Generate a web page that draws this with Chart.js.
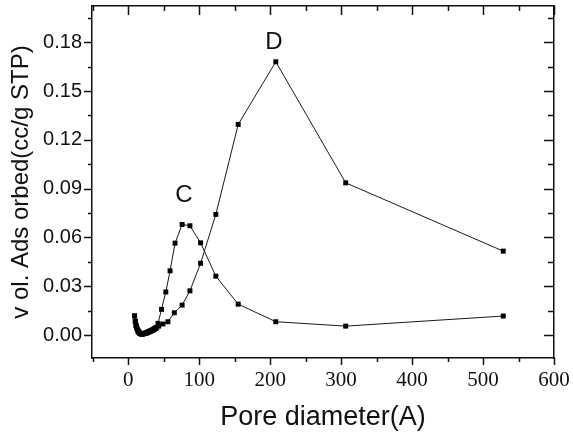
<!DOCTYPE html>
<html>
<head>
<meta charset="utf-8">
<script src="https://cdn.jsdelivr.net/npm/chart.js@4.4.0/dist/chart.umd.min.js"></script>
<style>
  html, body { margin: 0; padding: 0; background: #fff; }
  #c { display: block; }
</style>
</head>
<body>
<canvas id="c" width="573" height="435"></canvas>
<script>
// shared low-diameter part (both curves sit on top of each other here)
const lowX = [9, 10, 11, 12, 13, 14, 15, 16, 17, 18, 19, 20, 21, 22, 23, 24, 25, 26, 27, 28, 29, 30, 31, 32, 33, 34, 35, 36, 37, 38, 39, 40];
const lowY = [0.0118, 0.0085, 0.006, 0.0045, 0.0033, 0.0025, 0.0018, 0.0013, 0.001, 0.0008, 0.0007, 0.0007, 0.0008, 0.0009, 0.001, 0.0011,
              0.0013, 0.0014, 0.0016, 0.0018, 0.002, 0.0022, 0.0024, 0.0026, 0.0028, 0.003, 0.0032, 0.0035, 0.0038, 0.0041, 0.0044, 0.0047];

// sample C
const cX = [42, 47, 53, 59, 66, 76, 87, 102, 123.5, 155, 208, 306.5, 528.5];
const cY = [0.0072, 0.0158, 0.0265, 0.0395, 0.0565, 0.068, 0.0672, 0.0567, 0.0362, 0.019, 0.0082, 0.0055, 0.0117];

// sample D
const dX = [43, 49, 56, 65, 76, 87, 102, 123.5, 155, 208, 306.5, 528.5];
const dY = [0.0055, 0.0068, 0.0082, 0.0137, 0.0184, 0.0272, 0.0441, 0.0742, 0.1295, 0.168, 0.0936, 0.0516];

const xTicks = [0, 100, 200, 300, 400, 500, 600];
const yTicks = [0, 0.03, 0.06, 0.09, 0.12, 0.15, 0.18];

const peakLabels = ["C", "D"];
const peakLabelX = [78.5, 205.5];
const peakLabelY = [0.086, 0.18];

function toPoints(xs, ys) {
   return xs.map((x, i) => ({ x, y: ys[i] }));
}

const seriesStyle = {
   borderColor: "#1a1a1a",
   backgroundColor: "#000",
   borderWidth: 1,
   pointStyle: "rect",
   pointRadius: 3.5,
   pointBorderWidth: 0,
   pointBackgroundColor: "#000",
   tension: 0,
   fill: false,
};

// mirrored tick marks + minor ticks, Origin style
const frameTicks = {
   id: "frameTicks",
   afterDraw(chart) {
      const { ctx, chartArea: a, scales } = chart;
      const sx = scales.x, sy = scales.y;
      ctx.save();
      ctx.strokeStyle = "#111";
      ctx.lineWidth = 1.5;
      ctx.beginPath();
      for (let v = -50; v <= 600; v += 50) {
         const px = Math.round(sx.getPixelForValue(v)) + 0.5;
         const major = v % 100 === 0;
         ctx.moveTo(px, a.bottom); ctx.lineTo(px, a.bottom + (major ? 7 : 4));
         ctx.moveTo(px, a.top); ctx.lineTo(px, a.top + (major ? 9 : 5));
      }
      for (let k = -1; k <= 13; k++) {
         const v = k * 0.015;
         const py = Math.round(sy.getPixelForValue(v)) + 0.5;
         if (py < a.top || py > a.bottom) continue;
         const major = k % 2 === 0;
         ctx.moveTo(a.left, py); ctx.lineTo(a.left - (major ? 8 : 4), py);
         ctx.moveTo(a.right, py); ctx.lineTo(a.right - (major ? 10 : 6), py);
      }
      ctx.stroke();

      ctx.fillStyle = "#111";
      ctx.font = "24px 'Liberation Sans', Arial, sans-serif";
      ctx.textAlign = "center";
      ctx.textBaseline = "middle";
      peakLabels.forEach((t, i) => {
         ctx.fillText(t, sx.getPixelForValue(peakLabelX[i]), sy.getPixelForValue(peakLabelY[i]));
      });
      ctx.restore();
   },
};

function noEdgePad(s) {
   s.paddingTop = 0;
   s.paddingBottom = 0;
   s.paddingLeft = 0;
   s.paddingRight = 0;
}

new Chart(document.getElementById("c"), {
   type: "line",
   data: {
      datasets: [
         { label: "C", data: toPoints(lowX.concat(cX), lowY.concat(cY)), ...seriesStyle },
         { label: "D", data: toPoints(lowX.concat(dX), lowY.concat(dY)), ...seriesStyle },
      ],
   },
   options: {
      responsive: false,
      animation: false,
      devicePixelRatio: 1,
      layout: { padding: { left: 0, right: 19, top: 6, bottom: 0 } },
      plugins: { legend: { display: false }, tooltip: { enabled: false } },
      scales: {
         x: {
            type: "linear",
            position: "bottom",
            min: -51,
            max: 600,
            afterBuildTicks: (s) => { s.ticks = xTicks.map((v) => ({ value: v })); },
            afterFit: (s) => { s.height = 77; noEdgePad(s); },
            grid: { display: false, drawTicks: false },
            border: { display: true, color: "#111", width: 1.5 },
            ticks: {
               padding: 10,
               color: "#111",
               font: { family: "'Liberation Serif', 'Times New Roman', serif", size: 21 },
               maxRotation: 0,
               callback: (v) => String(v),
            },
            title: {
               display: true,
               text: "Pore diameter(A)",
               color: "#111",
               font: { family: "'Liberation Sans', Arial, sans-serif", size: 27 },
               padding: { top: 0, bottom: 1 },
            },
         },
         y: {
            type: "linear",
            position: "left",
            min: -0.0141,
            max: 0.2023,
            afterBuildTicks: (s) => { s.ticks = yTicks.map((v) => ({ value: v })); },
            afterFit: (s) => { s.width = 92; noEdgePad(s); },
            grid: { display: false, drawTicks: false },
            border: { display: true, color: "#111", width: 1.5 },
            ticks: {
               padding: 10,
               color: "#111",
               font: { family: "'Liberation Sans', Arial, sans-serif", size: 20 },
               callback: (v) => Number(v).toFixed(2),
            },
            title: {
               display: true,
               text: "v ol. Ads orbed(cc/g STP)",
               color: "#111",
               font: { family: "'Liberation Sans', Arial, sans-serif", size: 24 },
               padding: { top: 7, bottom: 0 },
            },
         },
         x2: {
            type: "linear",
            position: "top",
            min: -51,
            max: 600,
            grid: { display: false, drawTicks: false },
            border: { display: true, color: "#111", width: 1.5 },
            ticks: { display: false },
            afterFit: (s) => { s.height = 0; noEdgePad(s); },
         },
         y2: {
            type: "linear",
            position: "right",
            min: -0.0141,
            max: 0.2023,
            grid: { display: false, drawTicks: false },
            border: { display: true, color: "#111", width: 1.5 },
            ticks: { display: false },
            afterFit: (s) => { s.width = 0; noEdgePad(s); },
         },
      },
   },
   plugins: [frameTicks],
});
</script>
</body>
</html>
